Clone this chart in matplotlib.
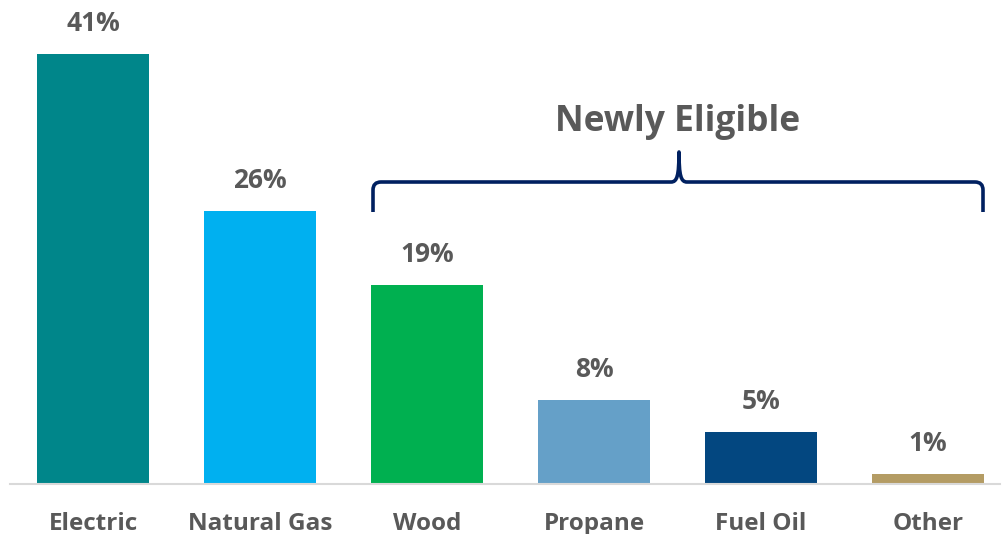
import matplotlib
matplotlib.use("Agg")
import matplotlib.pyplot as plt
from matplotlib.path import Path
from matplotlib.patches import PathPatch

# data
categories = ["Electric", "Natural Gas", "Wood", "Propane", "Fuel Oil", "Other"]
shares = [41, 26, 19, 8, 5, 1]
colors = ["#00868A", "#00B0F0", "#00B050", "#65A0C8", "#034780", "#B49C64"]
bracket_label = "Newly Eligible"

TEXT = "#595959"
plt.rcParams["font.family"] = ["Open Sans", "DejaVu Sans"]

fig = plt.figure(figsize=(10.02, 5.34), dpi=100)
ax = fig.add_axes([10 / 1002, 50 / 534, 990 / 1002, 484 / 534])

x = range(len(categories))
bars = ax.bar(x, shares, width=0.67, color=colors, zorder=2)
ax.set_xlim(-0.497, 5.431)
ax.set_ylim(0, 46.1)

for b, v in zip(bars, shares):
    ax.annotate(f"{v}%", (b.get_x() + b.get_width() / 2, b.get_height()),
                xytext=(0, 12), textcoords="offset points", ha="center", va="bottom",
                fontsize=19, fontweight="bold", color=TEXT)

ax.set_xticks(list(x))
ax.set_xticklabels(categories, fontsize=17.5, fontweight="bold", color=TEXT)
ax.tick_params(axis="x", length=0, pad=20)
ax.set_yticks([])
for s in ["top", "right", "left"]:
    ax.spines[s].set_visible(False)
ax.spines["bottom"].set_color("#D9D9D9")
ax.spines["bottom"].set_linewidth(1.5)

# curly brace over Wood .. Other, drawn in figure pixel space
H = 534.0
def P(px, py):
    return (px / 1002.0, (H - py) / H)

xl, xr, xm = 373, 983, 679
yb, yh, yp = 212, 182, 152
verts = [P(xl, yb), P(xl, yh + 8), P(xl, yh), P(xl + 8, yh),
         P(xm - 8, yh), P(xm - 2, yh), P(xm, yh - 6), P(xm, yp),
         P(xm, yh - 6), P(xm + 2, yh), P(xm + 8, yh),
         P(xr - 8, yh), P(xr, yh), P(xr, yh + 8), P(xr, yb)]
codes = [Path.MOVETO, Path.LINETO, Path.CURVE3, Path.CURVE3,
         Path.LINETO, Path.CURVE4, Path.CURVE4, Path.CURVE4,
         Path.CURVE4, Path.CURVE4, Path.CURVE4,
         Path.LINETO, Path.CURVE3, Path.CURVE3, Path.LINETO]
brace = PathPatch(Path(verts, codes), transform=fig.transFigure, fill=False,
                  edgecolor="#002060", linewidth=2.6, capstyle="butt", joinstyle="round")
fig.patches.append(brace)

fig.text(678 / 1002, 1 - 122 / H, bracket_label, ha="center", va="center",
         fontsize=25.5, fontweight="bold", color=TEXT)

fig.savefig("out.png", dpi=100)
